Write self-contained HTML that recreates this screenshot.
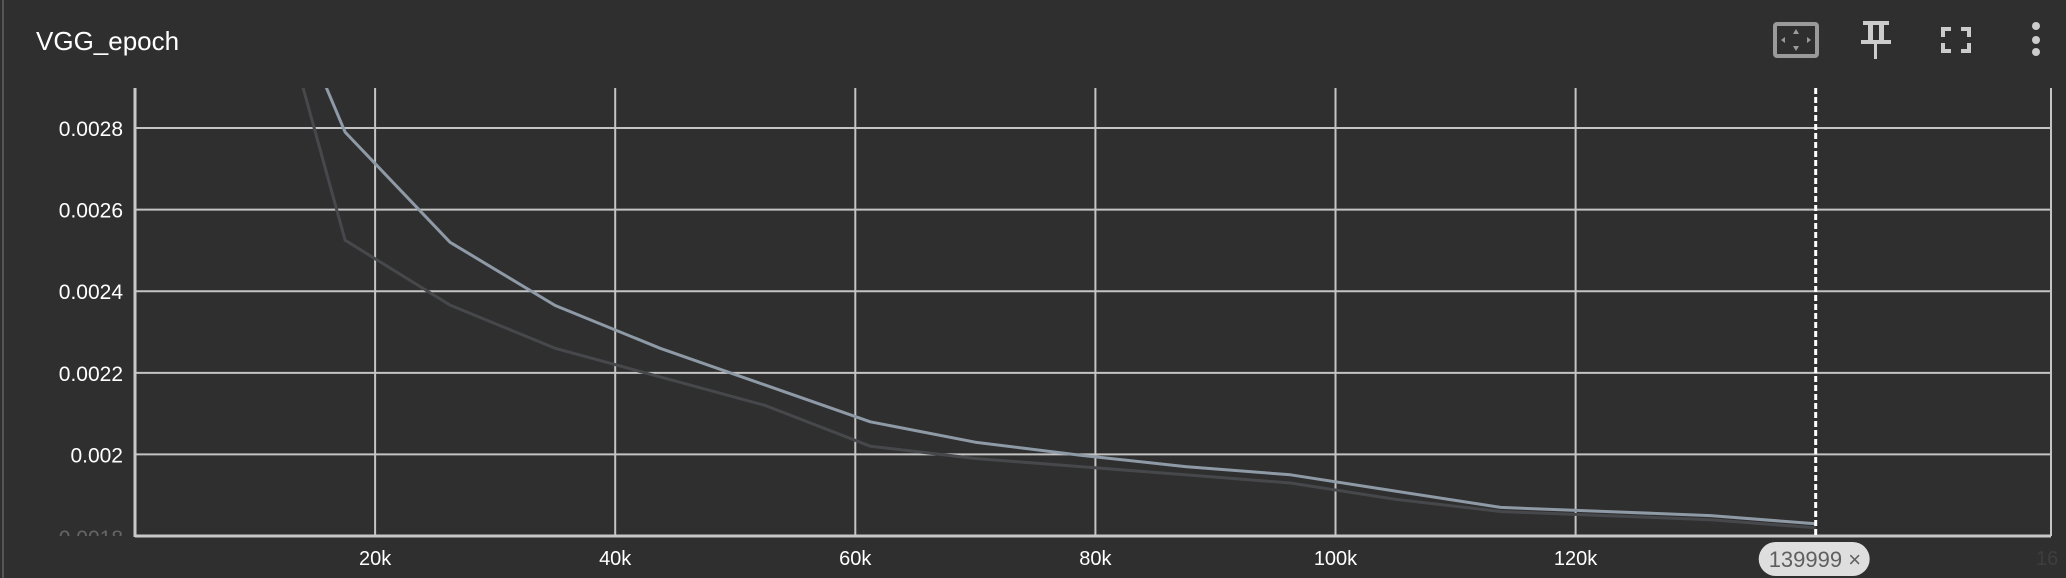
<!DOCTYPE html>
<html><head><meta charset="utf-8">
<style>
html,body{margin:0;padding:0;background:#2f2f2f;}
body{width:2066px;height:578px;overflow:hidden;position:relative;font-family:"Liberation Sans",sans-serif;}
#title{position:absolute;left:36px;top:26px;color:#fff;font-size:26px;}
svg{position:absolute;left:0;top:0;}
</style></head><body>
<div id="title">VGG_epoch</div>
<svg id="chart" width="2066" height="578">
<line x1="3" y1="0" x2="3" y2="578" stroke="#555" stroke-width="2"/>
<g>
<rect x="1775" y="24" width="42" height="32" rx="2" fill="none" stroke="#9a9a9a" stroke-width="4"/>
<polygon points="1796,29 1793,34 1799,34" fill="#9a9a9a"/><polygon points="1796,51 1793,46 1799,46" fill="#9a9a9a"/>
<polygon points="1781,40 1785,37 1785,43" fill="#9a9a9a"/><polygon points="1811,40 1807,37 1807,43" fill="#9a9a9a"/>
</g>
<g fill="#ccc">
<rect x="1863" y="21" width="26" height="4"/><rect x="1868" y="25" width="5" height="16"/><rect x="1879" y="25" width="5" height="16"/>
<rect x="1861" y="40" width="30" height="4"/><rect x="1874" y="44" width="3" height="15"/>
</g>
<g fill="none" stroke="#ccc" stroke-width="4">
<polyline points="1943,37 1943,29 1951,29"/><polyline points="1961,29 1969,29 1969,37"/>
<polyline points="1943,43 1943,51 1951,51"/><polyline points="1961,51 1969,51 1969,43"/>
</g>
<g fill="#ccc">
<circle cx="2036" cy="26" r="4"/><circle cx="2036" cy="40" r="4"/><circle cx="2036" cy="52" r="4"/>
</g>
<g id="labels"></g><g id="grid"></g><g id="lines"></g><g id="badge"></g>
</svg>
<script>
const xTicks=[20000,40000,60000,80000,100000,120000];
const xTickLabels=["20k","40k","60k","80k","100k","120k"];
const yTicks=[0.0028,0.0026,0.0024,0.0022,0.002];
const yTickLabels=["0.0028","0.0026","0.0024","0.0022","0.002"];
const steps=[8749,17499,26249,34999,43749,52499,61249,69999,78749,87499,96249,104999,113749,122499,131249,139999];
const seriesLight=[0.0034,0.00279,0.00252,0.002365,0.00226,0.00217,0.00208,0.00203,0.001998,0.00197,0.00195,0.00191,0.00187,0.00186,0.00185,0.00183];
const seriesDark=[0.00346,0.002525,0.002366,0.00226,0.00219,0.00212,0.00202,0.00199,0.00197,0.00195,0.00193,0.00189,0.00186,0.00185,0.00184,0.00182];
const cursorStep=139999;

const L=135,R=2051,T=88,B=536;
const xMin=0,xMax=159600,yMin=0.0018,yMax=0.0028+40/81.5*0.0002;
const X=v=>L+(v-xMin)/(xMax-xMin)*(R-L);
const Y=v=>B-(v-yMin)/(yMax-yMin)*(B-T);
const NS="http://www.w3.org/2000/svg";
function mk(tag,attrs,parent){const e=document.createElementNS(NS,tag);for(const k in attrs)e.setAttribute(k,attrs[k]);parent.appendChild(e);return e;}
const grid=document.getElementById('grid'),lines=document.getElementById('lines'),labels=document.getElementById('labels'),badgeG=document.getElementById('badge');
const svg=document.getElementById('chart');
const clip=mk('clipPath',{id:'pc'},svg);mk('rect',{x:L,y:T,width:R-L,height:B-T},clip);
yTicks.forEach((v,i)=>{
 const g=mk('line',{x1:L,x2:R,y1:Y(v),y2:Y(v),stroke:'#c4c4c4','stroke-width':2},grid);
 
 
 const t=mk('text',{x:123,y:Y(v)+8,'text-anchor':'end',fill:'#fff','font-size':21},labels);
 t.textContent=yTickLabels[i];
 
 
});
xTicks.forEach((v,i)=>{
 const g=mk('line',{x1:X(v),x2:X(v),y1:T,y2:B,stroke:'#c4c4c4','stroke-width':2},grid);
 
 
 const t=mk('text',{x:X(v),y:565,'text-anchor':'middle',fill:'#fff','font-size':20},labels);
 t.textContent=xTickLabels[i];
 
 
});
const faint=mk('text',{x:123,y:545,'text-anchor':'end',fill:'#666','font-size':21},labels);
faint.textContent='0.0018';


const cover=mk('rect',{x:40,y:536,width:95,height:14,fill:'#2f2f2f'},labels);


const faintX=mk('text',{x:2036,y:565,fill:'#3e3e3e','font-size':20},labels);
faintX.textContent='16';


const rEdge=mk('line',{x1:R,x2:R,y1:T,y2:B,stroke:'#c4c4c4','stroke-width':2},grid);


const yAxis=mk('line',{x1:L,x2:L,y1:T,y2:B+1,stroke:'#c8c8c8','stroke-width':3},grid);


const xAxis=mk('line',{x1:L,x2:R,y1:B,y2:B,stroke:'#c8c8c8','stroke-width':3},grid);


function path(vals,color,name){
 const d=vals.map((v,i)=>(i?'L':'M')+X(steps[i]).toFixed(1)+','+Y(v).toFixed(1)).join('');
 const p=mk('path',{d:d,fill:'none',stroke:color,'stroke-width':3,'stroke-linejoin':'round','clip-path':'url(#pc)'},lines);
 
 
}
path(seriesDark,'#47484b','series-dark-line');
path(seriesLight,'#8f9aa7','series-light-line');
const cx=X(cursorStep);
const cur=mk('line',{x1:cx,x2:cx,y1:T,y2:B,stroke:'#fff','stroke-width':3,'stroke-dasharray':'6,3'},lines);


const badge=mk('g',{},badgeG);


mk('rect',{x:cx-57,y:542,width:111,height:34,rx:17,fill:'#dedede'},badge);
const bt=mk('text',{x:cx-47,y:567,fill:'#5f5f5f','font-size':22},badge);
bt.textContent='139999 ×';
</script>
</body></html>
